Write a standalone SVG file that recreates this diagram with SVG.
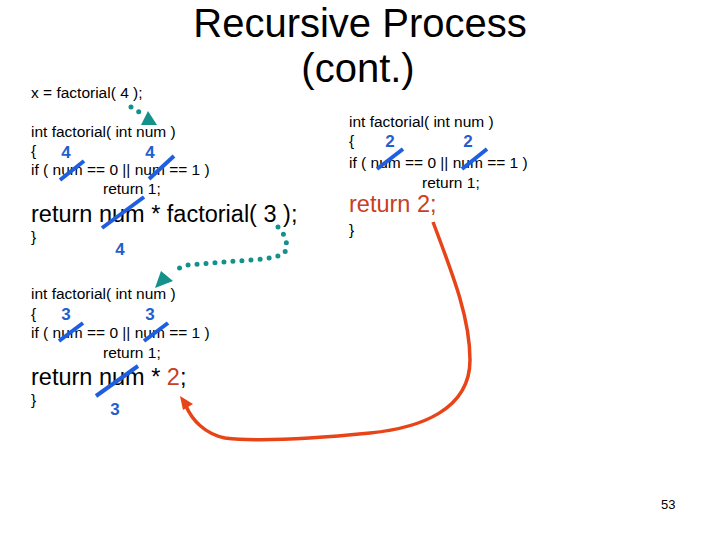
<svg xmlns="http://www.w3.org/2000/svg" width="720" height="540" viewBox="0 0 720 540">
<defs>
<style>
.t{font-family:"Liberation Sans",Arial,sans-serif;font-size:15.5px;fill:#000}
.big{font-family:"Liberation Sans",Arial,sans-serif;font-size:23.5px;fill:#000}
.title{font-family:"Liberation Sans",Arial,sans-serif;font-size:40px;fill:#000;text-anchor:middle}
.n{font-family:"Liberation Sans",Arial,sans-serif;font-size:17px;font-weight:bold;fill:#1f5fcf;text-anchor:middle}
.red{fill:#c8401e}
.strike{stroke:#1f5fdf;stroke-width:4;stroke-linecap:butt}
.dot{fill:none;stroke:#13918a;stroke-width:5;stroke-linecap:round;stroke-dasharray:0 9}
.ret{fill:none;stroke:#e84418;stroke-width:3.5}
</style>
</defs>
<g id="title">
<text class="title" x="360" y="37">Recursive Process</text>
<text class="title" x="358" y="82">(cont.)</text>
</g>
<g id="call">
<text class="t" x="31" y="98">x = factorial( 4 );</text>
</g>
<g id="block4">
<text class="t" x="31" y="137">int factorial( int num )</text>
<text class="t" x="31" y="156">{</text>
<text class="t" x="31" y="175">if ( num == 0  || num == 1 )</text>
<text class="t" x="103" y="194">return 1;</text>
<text class="big" x="31" y="222">return num * factorial( 3 );</text>
<text class="t" x="31" y="242">}</text>
<text class="n" x="66" y="158">4</text>
<text class="n" x="150" y="158">4</text>
<text class="n" x="120" y="255">4</text>
<line class="strike" x1="60" y1="180" x2="84" y2="161"/>
<line class="strike" x1="149" y1="179" x2="174" y2="156"/>
<line class="strike" x1="102" y1="228" x2="144" y2="197"/>
</g>
<g id="block3">
<text class="t" x="31" y="299">int factorial( int num )</text>
<text class="t" x="31" y="319">{</text>
<text class="t" x="31" y="338">if ( num == 0 || num == 1 )</text>
<text class="t" x="103" y="358">return 1;</text>
<text class="big" x="31" y="385">return num * <tspan class="red">2</tspan>;</text>
<text class="t" x="31" y="405">}</text>
<text class="n" x="66" y="320">3</text>
<text class="n" x="150" y="320">3</text>
<text class="n" x="115" y="415">3</text>
<line class="strike" x1="59" y1="341" x2="83" y2="323"/>
<line class="strike" x1="144" y1="341" x2="168" y2="323"/>
<line class="strike" x1="96" y1="396" x2="138" y2="366"/>
</g>
<g id="block2">
<text class="t" x="349" y="127">int factorial( int num )</text>
<text class="t" x="349" y="146">{</text>
<text class="t" x="349" y="168">if ( num == 0 || num == 1 )</text>
<text class="t" x="422" y="188">return 1;</text>
<text class="big red" x="349" y="212">return 2;</text>
<text class="t" x="349" y="235">}</text>
<text class="n" x="390" y="147">2</text>
<text class="n" x="468" y="147">2</text>
<line class="strike" x1="377" y1="169" x2="403" y2="149"/>
<line class="strike" x1="462" y1="169" x2="487" y2="149"/>
</g>
<g id="connectors">
<path class="dot" d="M131,107 L141,113"/>
<polygon points="141,125 148,111 157,125" fill="#13918a"/>
<path class="dot" d="M278,227 Q290,240 285,252 Q280,258 250,260 L187,265 Q178,268 172,272"/>
<polygon points="155,288 161,271 173,281" fill="#13918a"/>
<path class="ret" d="M433,222 C455,280 470,320 470,360 C470,410 420,428 370,433 C320,438 260,442 225,438 C205,434 192,420 186,406"/>
<polygon points="180,396 193,404 183,410" fill="#e84418"/>
</g>
<g id="page">
<text class="t" x="661" y="509" style="font-size:13px">53</text>
</g>
</svg>
